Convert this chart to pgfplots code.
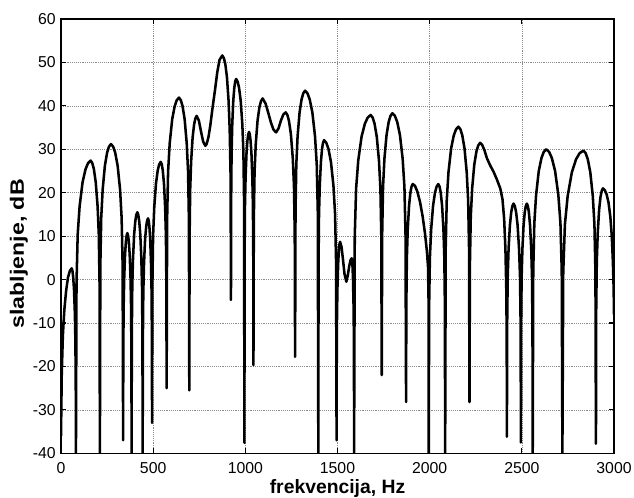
\documentclass[border=0pt]{standalone}
\usepackage{fontspec}
\setmainfont{Liberation Sans}
\newfontfamily\ylabfont{Liberation Sans}[FakeStretch=1.2]
\usepackage{pgfplots}
\pgfplotsset{compat=1.18}
\usetikzlibrary{calc}
\begin{document}
\begin{tikzpicture}
\begin{axis}[
 scale only axis, width=414.75pt, height=325.7pt,
 xmin=0, xmax=3000, ymin=-40, ymax=60,
 xtick={0,500,...,3000}, ytick={-40,-30,...,60},
 grid=major, grid style={densely dotted, black!45, line width=0.5pt},
 axis line style={line width=1.1pt, black},
 tick align=inside, major tick length=3.75pt, tick style={line width=0.9pt, black},
 /pgf/number format/assume math mode=true,
 /pgf/number format/set thousands separator={},
 ticklabel style={font=\fontsize{11.85}{14}\selectfont},
 xticklabel style={anchor=base, yshift=-15.3pt, inner sep=0pt},
 yticklabel style={anchor=east, xshift=-3.75pt, inner sep=0pt},
 xlabel={frekvencija, Hz}, ylabel={slabljenje, dB},
 xlabel style={font=\fontsize{14.5}{17}\selectfont\bfseries, at={(rel axis cs:0.5,-0.0936)}, anchor=base, inner sep=0pt},
 ylabel style={font=\ylabfont\fontsize{14.5}{17}\selectfont\bfseries, at={(rel axis cs:-0.076,0.459)}, anchor=center},
]
\addplot[black, line width=1.9pt, line join=round] coordinates {
(0,-36) (4,-22) (10,-13) (18,-7) (28,-2.5) (38,0.5) (48,2.0) (58,2.6)
(62.1,2.0) (66.1,0.6) (70.7,-2.4) (75.3,-7.9) (78.2,-14.4) (80.1,-25.4) (81,-40)
(84.2,-0.6) (90.6,10.4) (101,16.9) (117,22.4) (133,25.4) (146.6,26.8) (161,27.4)
(170,26.8) (178.5,25.4) (188.5,22.4) (198.5,16.9) (205,10.4) (209,-0.6) (211,-40)
(213.4,3.2) (218.2,14.2) (226,20.7) (238,26.2) (250,29.2) (260.2,30.6) (271,31.2)
(282.9,30.6) (294.1,29.2) (307.3,26.2) (320.5,20.7) (328.9,14.2) (334.4,3.2) (337,-37)
(337.9,-17.3) (339.8,-6.3) (342.8,0.2) (347.4,5.7) (352,8.7) (355.9,10.1) (360,10.7)
(364.1,10.1) (368.1,8.7) (372.7,5.7) (377.3,0.2) (380.2,-6.3) (382.1,-17.3) (383,-40)
(384.2,-12.5) (386.7,-1.5) (390.8,5) (397,10.5) (403.2,13.5) (408.4,14.9) (414,15.5)
(419.2,14.9) (424.2,13.5) (430,10.5) (435.8,5) (439.5,-1.5) (441.8,-12.5) (443,-40)
(444.2,-13.9) (446.5,-2.9) (450.3,3.6) (456,9.1) (461.9,12.1) (466.8,13.5) (472,14.1)
(476,13.5) (479.7,12.1) (484.1,9.1) (488.5,3.6) (491.4,-2.9) (493.1,-13.9) (494,-33)
(495.9,-0.9) (499.6,10.1) (505.8,16.6) (515.2,22.1) (524.6,25.1) (532.5,26.5) (541,27.1)
(546.8,26.5) (552.2,25.1) (558.6,22.1) (565,16.6) (569.2,10.1) (571.7,-0.9) (573,-25)
(575.7,13.9) (581,24.9) (589.8,31.4) (603.2,36.9) (616.6,39.9) (627.9,41.3) (640,41.9)
(650.1,41.3) (659.6,39.9) (670.8,36.9) (682,31.4) (689.3,24.9) (693.8,13.9) (696,-25.5)
(697.6,9.7) (700.8,20.7) (706,27.2) (714,32.7) (722,35.7) (728.8,37.1) (736,37.7)
(748,36.6) (760,34) (771,31.8) (783,30.8) (790,31.2) (800,32.8) (810,35.5) (822,39.5) (835,43.5) (848,47.8) (860,50.6) (875,51.6)
(883.5,51) (891.5,49.6) (900.3,46.6) (909.2,41.1) (915.1,34.6) (920.1,23.6) (922,-4.7)
(923.1,18.2) (925.4,29.2) (929,35.7) (934.6,41.2) (940.2,44.2) (945,45.6) (950,46.2)
(958.1,45.6) (965.8,44.2) (974.8,41.2) (983.8,35.7) (989.6,29.2) (993.2,18.2) (995,-37.6)
(996,6) (998,17) (1001.3,23.5) (1006.3,29) (1011.3,32) (1015.5,33.4) (1020,34)
(1024.3,33.4) (1028.4,32) (1033.2,29) (1038,23.5) (1041.1,17) (1043,6) (1044,-19.7)
(1046,13.7) (1050,24.7) (1056.5,31.2) (1066.5,36.7) (1076.5,39.7) (1085,41.1) (1094,41.7)
(1110,40.5) (1125,38.3) (1140,36) (1153,34.5) (1167,33.9) (1180,34.8) (1193,36.6) (1206,38) (1219,38.5)
(1228.2,37.9) (1236.9,36.5) (1247.1,33.5) (1257.3,28) (1263.9,21.5) (1268,10.5) (1270,-17.8)
(1272.2,15.5) (1276.5,26.5) (1283.5,33) (1294.3,38.5) (1305.1,41.5) (1314.3,42.9) (1324,43.5)
(1337,42.9) (1349.2,41.5) (1363.6,38.5) (1378,33) (1387.4,26.5) (1393.1,15.5) (1396,-40)
(1397.2,4.1) (1399.7,15.1) (1403.8,21.6) (1410,27.1) (1416.2,30.1) (1421.4,31.5) (1427,32.1)
(1439.2,31.5) (1450.8,30.1) (1464.4,27.1) (1478,21.6) (1486.8,15.1) (1492.3,4.1) (1495,-37)
(1495.8,-19.3) (1497.3,-8.3) (1499.8,-1.8) (1503.6,3.7) (1507.4,6.7) (1510.6,8.1) (1514,8.7)
(1522,7.5) (1530,4.5) (1538,1.3) (1548,-0.5) (1556,1) (1564,3.2) (1571,4.5) (1577,4.9)
(1579.3,4.3) (1581.6,2.9) (1584.2,-0.1) (1586.9,-5.6) (1588.6,-12.1) (1589.5,-23.1) (1590,-40)
(1593.6,9.9) (1600.8,20.9) (1612.5,27.4) (1630.5,32.9) (1648.5,35.9) (1663.8,37.3) (1680,37.9)
(1690.8,37.3) (1701,35.9) (1713,32.9) (1725,27.4) (1732.8,20.9) (1737.6,9.9) (1740,-22)
(1742.3,10.3) (1747,21.3) (1754.5,27.8) (1766.1,33.3) (1777.7,36.3) (1787.6,37.7) (1798,38.3)
(1811.3,37.7) (1823.9,36.3) (1838.7,33.3) (1853.5,27.8) (1863.1,21.3) (1869,10.3) (1872,-28.2)
(1873.4,-6) (1876.3,5) (1881,11.5) (1888.2,17) (1895.4,20) (1901.5,21.4) (1908,22)
(1920,21.6) (1933,20.3) (1948,17.8) (1962,14.5) (1975,10.5) (1985,6.5) (1991,3) (1994,-5) (1995,-40)
(1997.1,-6) (2001.2,5) (2008,11.5) (2018.4,17) (2028.8,20) (2037.6,21.4) (2047,22)
(2053.7,21.4) (2060,20) (2067.4,17) (2074.7,11.5) (2079.6,5) (2082.5,-6) (2084,-40)
(2086.9,7.2) (2092.6,18.2) (2102,24.7) (2116.4,30.2) (2130.8,33.2) (2143,34.6) (2156,35.2)
(2166.8,34.6) (2177,33.2) (2189,30.2) (2201,24.7) (2208.8,18.2) (2213.6,7.2) (2216,-28.2)
(2218.3,3.5) (2223,14.5) (2230.5,21) (2242.1,26.5) (2253.7,29.5) (2263.6,30.9) (2274,31.5)
(2285,31) (2297,29.8) (2310,28) (2328,26.3) (2347,24.8) (2365,23) (2383,21) (2395,18.5) (2404,14) (2411,7) (2416,-3) (2418,-15) (2419,-36.2)
(2420.4,-10.5) (2423.3,0.5) (2428,7) (2435.2,12.5) (2442.4,15.5) (2448.5,16.9) (2455,17.5)
(2462.2,16.9) (2469,15.5) (2477,12.5) (2485,7) (2490.2,0.5) (2493.4,-10.5) (2495,-37.5)
(2496.3,-10.5) (2498.8,0.5) (2503,7) (2509.4,12.5) (2515.8,15.5) (2521.2,16.9) (2527,17.5)
(2532.8,16.9) (2538.2,15.5) (2544.6,12.5) (2551,7) (2555.2,0.5) (2557.7,-10.5) (2559,-40)
(2561.9,2) (2567.8,13) (2577.3,19.5) (2591.9,25) (2606.5,28) (2618.9,29.4) (2632,30)
(2647.8,29.4) (2662.8,28) (2680.4,25) (2698,19.5) (2709.4,13) (2716.5,2) (2720,-40)
(2724.6,1.7) (2733.7,12.7) (2748.5,19.2) (2771.3,24.7) (2794.1,27.7) (2813.5,29.1) (2834,29.7)
(2846.2,29.1) (2857.8,27.7) (2871.4,24.7) (2885,19.2) (2893.8,12.7) (2899.3,1.7) (2902,-37.8)
(2903.5,-7) (2906.6,4) (2911.5,10.5) (2919.1,16) (2926.7,19) (2933.2,20.4) (2940,21)
(2950,20.6) (2960,19.6) (2970,17.8) (2980,14.5) (2988,10) (2994,4) (2998,-2) (3000,-8)
};
\coordinate (ll) at (rel axis cs:0,0);
\coordinate (ur) at (rel axis cs:1,1);
\end{axis}
\pgfresetboundingbox
\path[use as bounding box] ($(ll)+(-45.75pt,-33pt)$) rectangle ($(ur)+(15pt,14.25pt)$);
\end{tikzpicture}
\end{document}
